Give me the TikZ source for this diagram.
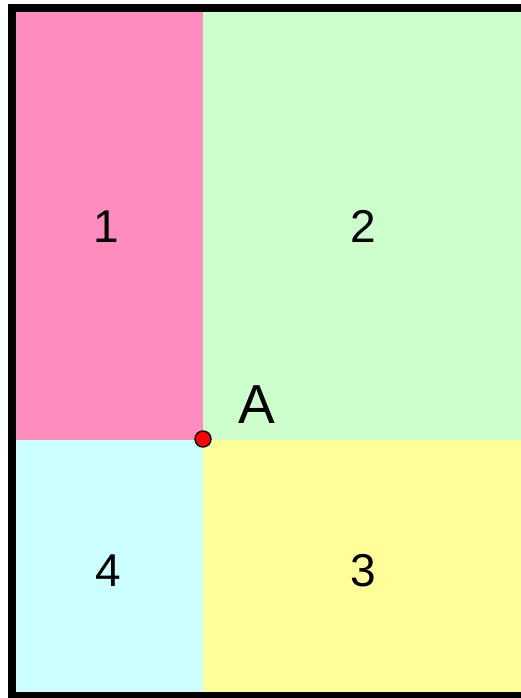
\documentclass[tikz,border=0pt]{standalone}
\usepackage{fontspec}
\setmainfont{Liberation Sans}
\definecolor{regpink}{RGB}{255,140,190}
\definecolor{reggreen}{RGB}{204,255,204}
\definecolor{regcyan}{RGB}{204,255,255}
\definecolor{regyellow}{RGB}{255,255,153}
\begin{document}
\begin{tikzpicture}[x=1pt,y=1pt,
  numlabel/.style={inner sep=0pt, anchor=base, font=\fontsize{46}{46}\selectfont},
  ptlabel/.style={inner sep=0pt, anchor=base, font=\fontsize{55}{55}\selectfont}]
\useasboundingbox (0,0) rectangle (521,-698);
\fill[regpink] (12,-8) rectangle (203,-440);
\fill[reggreen] (203,-8) rectangle (530,-440);
\fill[regcyan] (12,-440) rectangle (203,-696);
\fill[regyellow] (203,-440) rectangle (530,-696);
\draw[line width=8pt] (12,-8) rectangle (524.5,-696);
\node[numlabel] (r1) at (106,-242) {1};
\node[numlabel] (r2) at (363,-242) {2};
\node[numlabel] (r3) at (363,-586) {3};
\node[numlabel] (r4) at (108,-586) {4};
\node[ptlabel] (lA) at (257,-423) {A};
\filldraw[fill=red, draw=black, line width=1.4pt] (203,-439) circle (8);
\end{tikzpicture}
\end{document}
